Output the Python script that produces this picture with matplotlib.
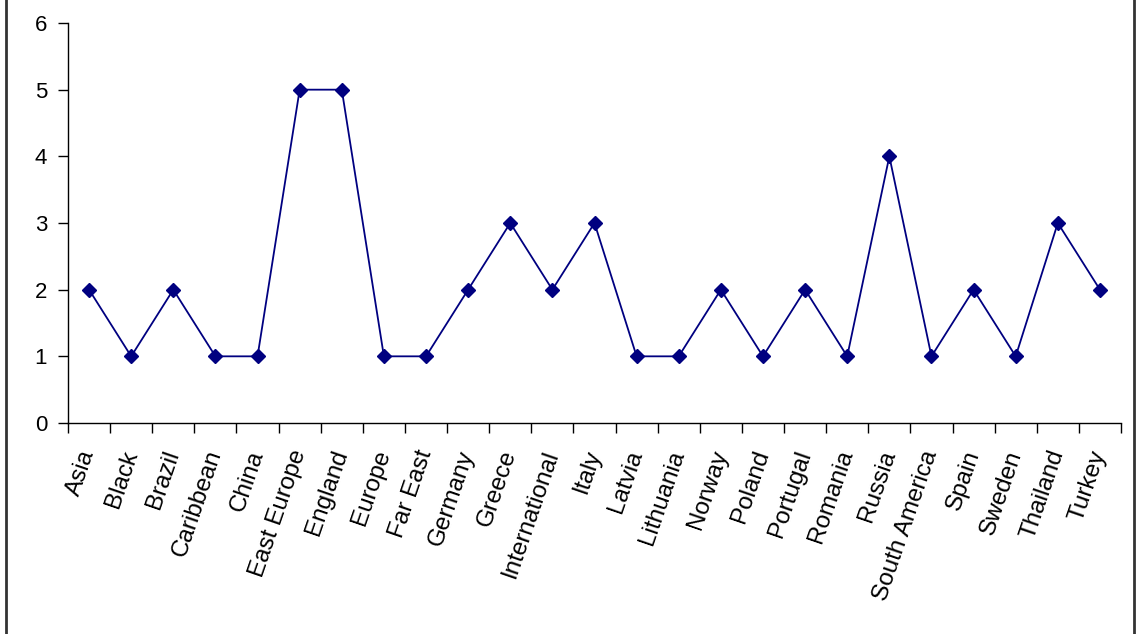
import matplotlib.pyplot as plt
from matplotlib.patches import Rectangle

plt.rcParams['font.family'] = ['Liberation Sans', 'DejaVu Sans']

categories = ['Asia', 'Black', 'Brazil', 'Caribbean', 'China', 'East Europe', 'England',
              'Europe', 'Far East', 'Germany', 'Greece', 'International', 'Italy', 'Latvia',
              'Lithuania', 'Norway', 'Poland', 'Portugal', 'Romania', 'Russia',
              'South America', 'Spain', 'Sweden', 'Thailand', 'Turkey']
counts = [2, 1, 2, 1, 1, 5, 5, 1, 1, 2, 3, 2, 3, 1, 1, 2, 1, 2, 1, 4, 1, 2, 1, 3, 2]
yticks = [0, 1, 2, 3, 4, 5, 6]

fig = plt.figure(figsize=(11.36, 6.34), dpi=100)
ax = fig.add_axes([68 / 1136, 1 - 423 / 634, (1121 - 68) / 1136, 400 / 634])

x = list(range(len(categories)))
ax.plot(x, counts, color='#000080', linewidth=1.3, marker='D', markersize=7,
        markerfacecolor='#000080', markeredgecolor='#000080')

ax.set_xlim(-0.5, len(categories) - 0.5)
ax.set_ylim(0, 6)
ax.set_yticks(yticks)
ax.tick_params(axis='y', direction='out', length=7, width=1, labelsize=16, pad=8)

# category ticks sit between categories, labels at the centres
ax.set_xticks([i - 0.5 for i in range(len(categories) + 1)])
ax.set_xticklabels([])
ax.tick_params(axis='x', which='major', direction='out', length=7, width=1)
ax.set_xticks(x, minor=True)
ax.set_xticklabels(categories, minor=True, rotation=71, ha='right', va='center',
                   rotation_mode='anchor', fontsize=17.5)
ax.tick_params(axis='x', which='minor', length=0, pad=20)

for side in ['top', 'right']:
    ax.spines[side].set_visible(False)
for side in ['left', 'bottom']:
    ax.spines[side].set_linewidth(1)

# chart frame (Excel-style border)
fig.patches.append(Rectangle((6 / 1136, -0.01), (1134 - 6) / 1136, 1.02,
                             transform=fig.transFigure, fill=False,
                             edgecolor='#333333', linewidth=2))

fig.savefig('out.png', dpi=100, facecolor='white')
